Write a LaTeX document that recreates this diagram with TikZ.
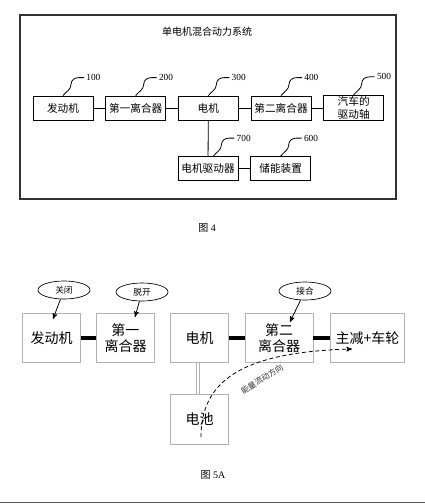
\documentclass[tikz,border=0pt]{standalone}
\usepackage{fontspec}
\setmainfont{Liberation Serif}
\newfontfamily\cjk{Noto Sans CJK SC}
\usetikzlibrary{arrows,shapes.geometric,positioning}

\begin{document}
\begin{tikzpicture}[x=0.75pt,y=-0.75pt,>=stealth',node distance=54.5pt,
  main node/.style={rectangle,draw,line width=0.6pt,minimum width=45pt,minimum height=18pt,inner sep=1pt,font=\cjk\fontsize{8}{9.75}\selectfont,align=center},
  part node/.style={rectangle,draw=gray!60,line width=0.6pt,minimum width=43pt,minimum height=37pt,inner sep=1pt,font=\cjk\fontsize{10.5}{12.5}\selectfont,align=center},
  state node/.style={ellipse,draw,line width=0.5pt,minimum width=39pt,minimum height=13.5pt,inner sep=0pt,font=\cjk\fontsize{6.5}{7}\selectfont},
  num node/.style={right,inner sep=1.5pt,font=\fontsize{7}{8}\selectfont}]

  \useasboundingbox (0,0) rectangle (425,504);

  % figure 4
  \draw[line width=0.8pt,black!80] (20,15) rectangle (396,199);
  \node[font=\cjk\fontsize{7.5}{9}\selectfont] (title) at (207,32) {单电机混合动力系统};

  \node[main node] (1) at (63,108) {发动机};
  \node[main node] (2) [right of=1] {第一离合器};
  \node[main node] (3) [right of=2] {电机};
  \node[main node] (4) [right of=3] {第二离合器};
  \node[main node] (5) [right of=4] {汽车的\\驱动轴};
  \node[main node] (7) at (208,168.5) {电机驱动器};
  \node[main node] (6) [right of=7] {储能装置};

  \path[draw,line width=0.6pt]
    (1) edge (2)
    (2) edge (3)
    (3) edge (4)
    (4) edge (5)
    (3) edge (7)
    (7) edge (6);

  \foreach \n/\num/\dx in {1/100/0,2/200/0,3/300/0,4/400/0,5/500/0,7/700/4,6/600/0}
    \draw[line width=0.6pt] ([xshift=\dx pt]\n.north) .. controls +(3,-4) and +(0,5) .. ++(8,-11)
      .. controls +(0,-5) and +(-4,0) .. ++(8,-7) -- ++(5,0) node[num node] {\num};

  \node[font=\fontsize{7.5}{9}\selectfont] (cap4) at (207,228) {{\cjk 图} 4};

  % figure 5A
  \node[part node] (a) at (51.5,338) {发动机};
  \node[part node] (b) at (125.5,338) {第一\\离合器};
  \node[part node] (c) at (199.5,338) {电机};
  \node[part node,minimum width=51pt] (d) at (279,338) {第二\\离合器};
  \node[part node,minimum width=55pt] (e) at (367.5,338) {主减+车轮};
  \node[part node] (f) at (199.5,419.5) {电池};

  \path[draw,line width=2.4pt]
    (a) edge (b)
    (c) edge (d)
    (d) edge (e);
  \draw[draw=gray!60,line width=0.5pt,double=white,double distance=1.8pt]
    ([xshift=-1pt]c.south) -- ([xshift=-1pt]f.north);

  \node[state node] (s1) at (64,290) {关闭};
  \node[state node] (s2) at (142,292) {脱开};
  \node[state node] (s3) at (305,291) {接合};
  \coordinate (p1) at (53,319);
  \coordinate (p2) at (135,317);
  \coordinate (p3) at (290,322);
  \draw[->,line width=0.6pt] (s1) -- (p1);
  \draw[->,line width=0.6pt] (s2) -- (p2);
  \draw[->,line width=0.6pt] (s3) -- (p3);

  \coordinate (flow0) at (201,437);
  \coordinate (flow1) at (352,349);
  \draw[->,dash pattern=on 3pt off 2pt,line width=0.6pt] (flow0) .. controls (201,382) and (240,352) .. (flow1);
  \node[rotate=32,inner sep=0pt,text=black!80,font=\cjk\fontsize{6}{6}\selectfont] (flowlab) at (262,379) {能量流动方向};

  \node[font=\fontsize{7.5}{9}\selectfont] (cap5) at (213,475) {{\cjk 图} 5A};
  \draw[gray!70!black,line width=1pt] (0,502.5) -- (425,502.5);

\end{tikzpicture}
\end{document}
